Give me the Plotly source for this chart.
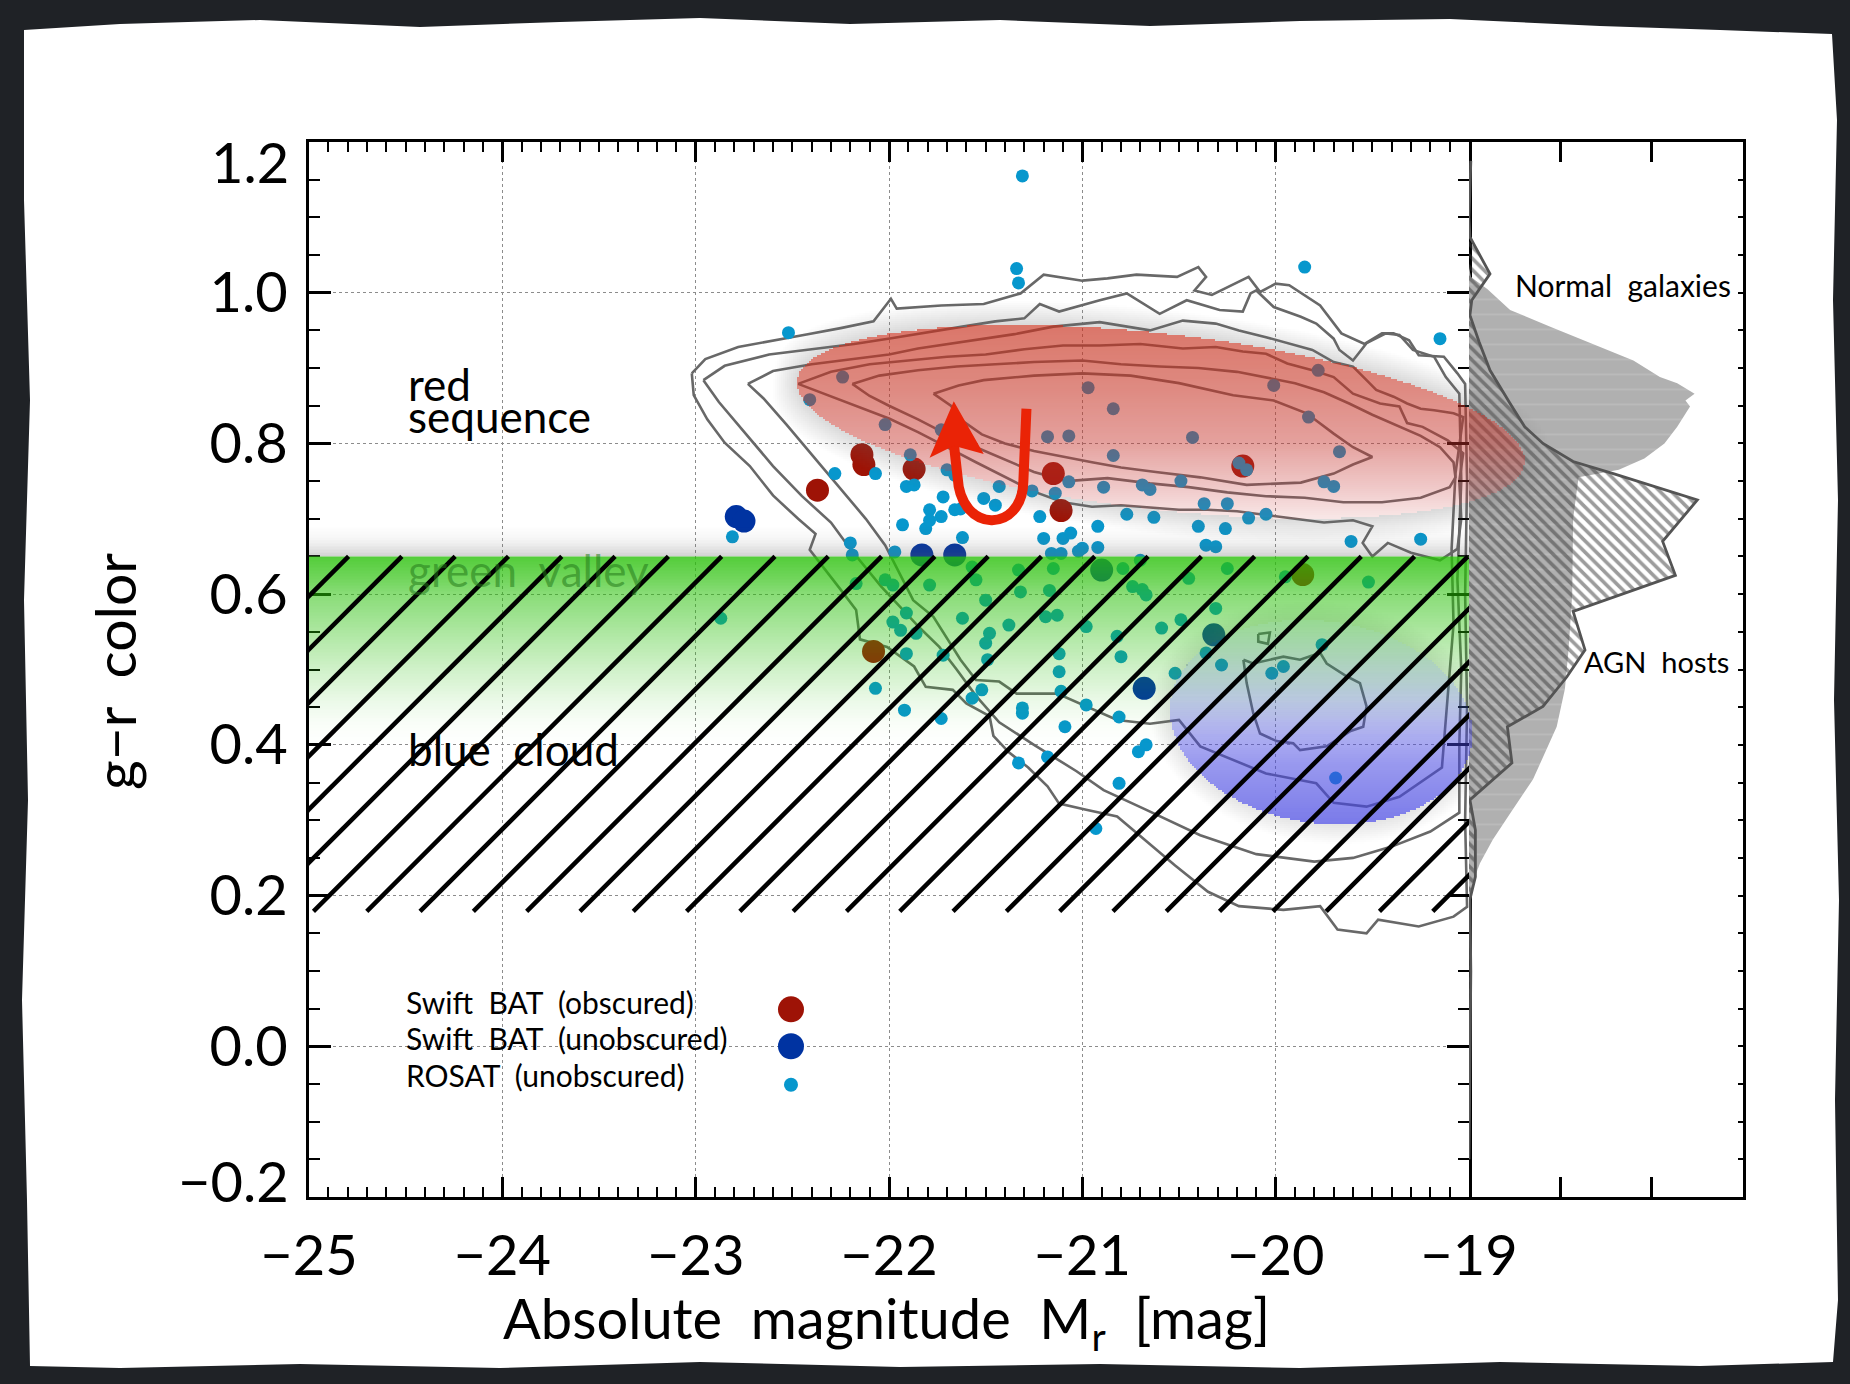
import numpy as np
import plotly.graph_objects as go

# ---------------- figure geometry (pixels) ----------------
W, H = 1850, 1384
X0, X1, X2 = 309, 1469, 1743      # main left, main right (-19), histogram right
YT, YB = 142, 1197                # top (1.2), bottom (-0.2)
XMIN, XMAX = -25.0, -19.0
YMIN, YMAX = -0.2, 1.2
HMAX = 0.3
PXX = (X1 - X0) / (XMAX - XMIN)
PXY = (YB - YT) / (YMAX - YMIN)
X3MAX = XMIN + (X2 - X0) / PXX
FONT = "Lato"
TICK_SIZE = 56

# ---------------- data ----------------
rosat_x = [-21.31, -21.34, -21.33, -19.85, -19.15, -22.52, -22.24, -22.41, -22.02, -21.73,
           -20.97, -20.84, -21.18, -21.07, -20.43, -20.01, -19.78, -19.83, -19.67, -20.84,
           -21.89, -20.19, -20.15, -22.28, -22.07, -21.91, -21.87, -21.70, -21.66, -21.72,
           -21.79, -21.73, -21.66, -21.63, -21.51, -21.43, -21.45, -21.93, -21.81, -21.79,
           -21.62, -22.81, -22.20, -22.19, -21.97, -21.26, -21.22, -21.20, -21.14, -21.10,
           -21.06, -21.07, -21.00, -21.02, -20.92, -20.92, -20.89, -20.77, -20.69, -20.65,
           -20.63, -20.49, -20.40, -20.37, -20.36, -20.31, -20.26, -20.25, -20.14, -20.05,
           -19.75, -19.70, -19.61, -19.25, -21.16, -21.11,
           -22.17, -22.02, -21.98, -21.79, -21.57, -21.55, -21.50, -21.33, -21.32, -21.17,
           -21.15, -20.98, -20.82, -21.98, -21.94, -21.91, -21.86, -22.87, -21.62, -21.38,
           -21.19, -21.13, -21.48, -21.50, -21.91, -21.72, -21.49, -21.12, -21.12, -21.11,
           -22.07, -21.92, -21.73, -21.57, -21.52, -21.31, -21.31, -20.98, -21.09, -21.33,
           -21.18, -20.93, -20.81, -20.81, -20.79, -20.70, -20.45, -20.25, -20.74, -20.69,
           -20.67, -19.95, -19.52, -20.31, -20.49, -20.59, -20.80, -20.52, -20.36, -20.28,
           -20.02, -19.96, -19.76, -20.67, -20.71, -19.69]
rosat_y = [1.155, 1.032, 1.013, 1.034, 0.939, 0.947, 0.888, 0.858, 0.825, 0.818,
           0.874, 0.846, 0.809, 0.810, 0.808, 0.877, 0.897, 0.835, 0.789, 0.784,
           0.785, 0.774, 0.765, 0.760, 0.760, 0.743, 0.745, 0.765, 0.758, 0.729,
           0.712, 0.703, 0.712, 0.713, 0.727, 0.743, 0.718, 0.692, 0.687, 0.698,
           0.675, 0.676, 0.668, 0.652, 0.656, 0.737, 0.703, 0.674, 0.734, 0.674,
           0.681, 0.749, 0.661, 0.657, 0.690, 0.662, 0.742, 0.706, 0.745, 0.739,
           0.702, 0.750, 0.690, 0.720, 0.665, 0.663, 0.687, 0.720, 0.701, 0.706,
           0.749, 0.743, 0.670, 0.673, 0.654, 0.654,
           0.614, 0.619, 0.612, 0.612, 0.636, 0.619, 0.592, 0.632, 0.603, 0.605,
           0.634, 0.557, 0.544, 0.563, 0.552, 0.575, 0.548, 0.568, 0.568, 0.559,
           0.570, 0.572, 0.548, 0.535, 0.521, 0.519, 0.513, 0.521, 0.497, 0.471,
           0.475, 0.446, 0.435, 0.462, 0.473, 0.449, 0.442, 0.453, 0.424, 0.376,
           0.384, 0.289, 0.437, 0.349, 0.634, 0.645, 0.621, 0.634, 0.610, 0.606,
           0.599, 0.623, 0.616, 0.581, 0.566, 0.555, 0.517, 0.495, 0.522, 0.506,
           0.495, 0.504, 0.533, 0.400, 0.391, 0.356]

bat_obsc_x = [-22.14, -22.13, -22.37, -21.87, -21.15, -21.11, -20.17, -22.08, -19.86]
bat_obsc_y = [0.785, 0.772, 0.738, 0.766, 0.760, 0.711, 0.770, 0.524, 0.626]

bat_unobsc_x = [-22.79, -22.75, -21.83, -21.66, -20.90, -20.32, -20.68]
bat_unobsc_y = [0.703, 0.697, 0.652, 0.652, 0.632, 0.546, 0.475]

# density contours of normal galaxies (traced)
contour_1 = [(-23.02, 0.893), (-22.95, 0.912), (-22.78, 0.928), (-22.60, 0.937), (-22.42, 0.945), (-22.25, 0.953),
             (-22.08, 0.962), (-21.99, 0.992), (-21.96, 0.979), (-21.73, 0.983), (-21.51, 0.985), (-21.32, 0.999),
             (-21.20, 1.024), (-21.00, 1.016), (-20.87, 1.019), (-20.72, 1.024), (-20.51, 1.021), (-20.40, 1.034),
             (-20.36, 1.021), (-20.42, 1.003), (-20.33, 0.997), (-20.14, 1.021), (-20.08, 1.001), (-20.00, 1.012),
             (-19.93, 1.010), (-19.77, 0.983), (-19.66, 0.946), (-19.54, 0.932), (-19.45, 0.946), (-19.39, 0.946),
             (-19.31, 0.937), (-19.26, 0.917), (-19.13, 0.915), (-19.06, 0.893), (-19.02, 0.879), (-19.01, 0.75),
             (-19.02, 0.60), (-19.01, 0.45), (-19.02, 0.30), (-19.01, 0.185), (-19.08, 0.172), (-19.26, 0.159),
             (-19.40, 0.165), (-19.47, 0.168), (-19.53, 0.150), (-19.68, 0.155), (-19.77, 0.186), (-19.96, 0.181),
             (-20.19, 0.186), (-20.35, 0.205), (-20.52, 0.240), (-20.68, 0.275), (-20.82, 0.305), (-20.98, 0.314),
             (-21.12, 0.322), (-21.18, 0.345), (-21.28, 0.370), (-21.38, 0.390), (-21.46, 0.412), (-21.48, 0.438),
             (-21.60, 0.455), (-21.67, 0.473), (-21.81, 0.477), (-21.87, 0.504), (-22.01, 0.530), (-22.15, 0.540),
             (-22.17, 0.579), (-22.25, 0.606), (-22.33, 0.632), (-22.41, 0.659), (-22.38, 0.680), (-22.47, 0.700),
             (-22.60, 0.731), (-22.72, 0.770), (-22.85, 0.801), (-22.94, 0.832), (-23.01, 0.864), (-23.02, 0.893)]
contour_2 = [(-22.96, 0.884), (-22.85, 0.903), (-22.62, 0.918), (-22.40, 0.925), (-22.18, 0.932), (-21.98, 0.940),
             (-21.80, 0.948), (-21.62, 0.955), (-21.45, 0.962), (-21.30, 0.966), (-21.22, 0.985), (-21.12, 0.975),
             (-20.91, 0.990), (-20.77, 0.999), (-20.60, 0.972), (-20.46, 0.990), (-20.29, 0.977), (-20.17, 0.975),
             (-20.13, 0.999), (-20.10, 1.003), (-20.01, 0.981), (-19.87, 0.968), (-19.79, 0.959), (-19.70, 0.939),
             (-19.67, 0.924), (-19.60, 0.910), (-19.53, 0.933), (-19.43, 0.946), (-19.36, 0.944), (-19.29, 0.924),
             (-19.18, 0.915), (-19.12, 0.888), (-19.05, 0.866), (-19.04, 0.75), (-19.06, 0.62), (-19.04, 0.50),
             (-19.05, 0.40), (-19.05, 0.31), (-19.20, 0.285), (-19.40, 0.265), (-19.60, 0.250), (-19.80, 0.245),
             (-20.10, 0.255), (-20.39, 0.280), (-20.68, 0.315), (-20.89, 0.340), (-21.03, 0.365), (-21.25, 0.400),
             (-21.43, 0.430), (-21.55, 0.465), (-21.65, 0.500), (-21.74, 0.530), (-21.84, 0.555), (-21.95, 0.585),
             (-22.04, 0.610), (-22.12, 0.635), (-22.20, 0.660), (-22.30, 0.695), (-22.45, 0.730), (-22.60, 0.770),
             (-22.75, 0.815), (-22.88, 0.855), (-22.96, 0.884)]
contour_3 = [(-22.73, 0.879), (-22.60, 0.896), (-22.40, 0.905), (-22.20, 0.912), (-22.00, 0.918), (-21.85, 0.926),
             (-21.70, 0.932), (-21.55, 0.938), (-21.35, 0.945), (-21.15, 0.955), (-20.91, 0.961), (-20.65, 0.950),
             (-20.48, 0.963), (-20.31, 0.959), (-20.19, 0.950), (-20.05, 0.941), (-19.94, 0.933), (-19.81, 0.924),
             (-19.70, 0.908), (-19.60, 0.902), (-19.53, 0.884), (-19.48, 0.871), (-19.39, 0.862), (-19.32, 0.853),
             (-19.25, 0.846), (-19.18, 0.844), (-19.08, 0.840), (-19.03, 0.835), (-19.07, 0.76), (-19.09, 0.66),
             (-19.08, 0.56), (-19.11, 0.46), (-19.14, 0.37), (-19.36, 0.331), (-19.53, 0.318), (-19.70, 0.323),
             (-19.79, 0.349), (-20.05, 0.362), (-20.22, 0.380), (-20.39, 0.398), (-20.50, 0.433), (-20.65, 0.428),
             (-20.82, 0.433), (-20.98, 0.451), (-21.13, 0.468), (-21.34, 0.468), (-21.43, 0.484), (-21.55, 0.486),
             (-21.63, 0.513), (-21.77, 0.570), (-21.875, 0.592), (-21.95, 0.630), (-22.02, 0.665), (-22.12, 0.700),
             (-22.25, 0.740), (-22.40, 0.785), (-22.53, 0.825), (-22.65, 0.860), (-22.73, 0.879)]
contour_4 = [(-22.47, 0.879), (-22.30, 0.895), (-22.10, 0.905), (-21.90, 0.910), (-21.70, 0.915), (-21.50, 0.918),
             (-21.30, 0.925), (-21.10, 0.930), (-20.91, 0.930), (-20.70, 0.932), (-20.48, 0.926), (-20.31, 0.928),
             (-20.17, 0.922), (-20.05, 0.919), (-19.94, 0.906), (-19.81, 0.897), (-19.70, 0.888), (-19.60, 0.866),
             (-19.46, 0.853), (-19.36, 0.849), (-19.32, 0.827), (-19.24, 0.822), (-19.11, 0.804), (-19.03, 0.787),
             (-19.05, 0.75), (-19.04, 0.70), (-19.06, 0.66), (-19.15, 0.645), (-19.30, 0.655), (-19.42, 0.668),
             (-19.50, 0.650), (-19.55, 0.668), (-19.50, 0.690), (-19.60, 0.698), (-19.75, 0.695), (-19.90, 0.700),
             (-20.05, 0.705), (-20.20, 0.710), (-20.35, 0.712), (-20.50, 0.712), (-20.65, 0.715), (-20.80, 0.718),
             (-20.95, 0.716), (-21.10, 0.722), (-21.25, 0.736), (-21.40, 0.755), (-21.55, 0.775), (-21.70, 0.795),
             (-21.85, 0.815), (-22.00, 0.833), (-22.15, 0.848), (-22.30, 0.863), (-22.47, 0.879)]
contour_5 = [(-22.19, 0.879), (-22.05, 0.890), (-21.85, 0.897), (-21.65, 0.902), (-21.45, 0.905), (-21.25, 0.908),
             (-21.00, 0.910), (-20.80, 0.905), (-20.60, 0.902), (-20.40, 0.900), (-20.20, 0.895), (-20.05, 0.888),
             (-19.90, 0.880), (-19.75, 0.868), (-19.62, 0.853), (-19.50, 0.838), (-19.38, 0.825), (-19.25, 0.810),
             (-19.15, 0.795), (-19.08, 0.775), (-19.07, 0.755), (-19.10, 0.742), (-19.25, 0.728), (-19.45, 0.722),
             (-19.65, 0.722), (-19.85, 0.728), (-20.05, 0.730), (-20.25, 0.735), (-20.45, 0.742), (-20.65, 0.747),
             (-20.87, 0.754), (-21.08, 0.750), (-21.25, 0.762), (-21.40, 0.778), (-21.55, 0.795), (-21.70, 0.812),
             (-21.85, 0.832), (-22.00, 0.850), (-22.10, 0.863), (-22.19, 0.879)]
contour_6 = [(-21.77, 0.866), (-21.64, 0.877), (-21.51, 0.884), (-21.25, 0.890), (-21.00, 0.893), (-20.75, 0.890),
             (-20.50, 0.880), (-20.22, 0.864), (-20.01, 0.857), (-19.84, 0.840), (-19.70, 0.813), (-19.60, 0.795),
             (-19.50, 0.782), (-19.60, 0.772), (-19.70, 0.760), (-19.87, 0.748), (-20.15, 0.745), (-20.39, 0.755),
             (-20.62, 0.762), (-20.80, 0.768), (-20.95, 0.775), (-21.10, 0.782), (-21.25, 0.790), (-21.40, 0.800),
             (-21.52, 0.812), (-21.62, 0.830), (-21.68, 0.850), (-21.77, 0.866)]
contour_bc1 = [(-20.167, 0.513), (-20.116, 0.508), (-19.96, 0.517), (-19.874, 0.513), (-19.77, 0.522), (-19.736, 0.508),
               (-19.633, 0.491), (-19.564, 0.482), (-19.53, 0.451), (-19.547, 0.424), (-19.616, 0.418), (-19.736, 0.398),
               (-19.874, 0.393), (-19.909, 0.402), (-19.995, 0.405), (-20.081, 0.415), (-20.116, 0.442), (-20.15, 0.482),
               (-20.167, 0.513)]
contour_bc2 = [(-20.09, 0.547), (-20.03, 0.549), (-20.04, 0.534), (-20.09, 0.537), (-20.09, 0.547)]
contours = [contour_1, contour_2, contour_3, contour_4, contour_5, contour_6, contour_bc1, contour_bc2]

# marginal histograms (g-r color vs. fraction)
normal_y = [1.035, 1.021, 1.005, 0.977, 0.955, 0.928, 0.910, 0.888, 0.880, 0.866, 0.857, 0.849, 0.822, 0.800,
            0.780, 0.765, 0.755, 0.700, 0.600, 0.526, 0.474, 0.424, 0.384, 0.354, 0.309, 0.274, 0.243, 0.217,
            0.195, 0.150]
normal_f = [0.0, 0.002, 0.020, 0.045, 0.089, 0.143, 0.180, 0.209, 0.228, 0.247, 0.237, 0.242, 0.228, 0.214,
            0.192, 0.164, 0.120, 0.114, 0.113, 0.109, 0.105, 0.096, 0.081, 0.070, 0.045, 0.026, 0.012, 0.004,
            0.001, 0.0]
agn_y = [1.175, 1.100, 1.074, 1.025, 0.990, 0.970, 0.935, 0.897, 0.853, 0.822, 0.800, 0.776, 0.760, 0.725,
         0.670, 0.625, 0.577, 0.526, 0.490, 0.451, 0.424, 0.376, 0.327, 0.287, 0.225, 0.195, 0.100, 0.000, -0.150]
agn_f = [0.002, 0.0, 0.001, 0.023, 0.003, 0.001, 0.011, 0.023, 0.045, 0.061, 0.081, 0.114, 0.158, 0.250,
         0.212, 0.226, 0.114, 0.127, 0.107, 0.081, 0.042, 0.047, 0.001, 0.007, 0.007, 0.001, 0.002, 0.001, 0.0]

x_ticks = [-25, -24, -23, -22, -21, -20, -19]
y_ticks = [-0.2, 0.0, 0.2, 0.4, 0.6, 0.8, 1.0, 1.2]
y_ticktext = ["", "0.0", "0.2", "0.4", "0.6", "0.8", "1.0", ""]   # end labels are set inside the frame
y_end_labels = ["\u22120.2", "1.2"]
legend_labels = ["Swift  BAT  (obscured)", "Swift  BAT  (unobscured)", "ROSAT  (unobscured)"]

# region boundaries
GREEN_TOP = 0.65
HATCH_BOTTOM = 0.179

# ---------------- helpers ----------------
def ellipse_layer(cx_d, cy_d, a, b, theta, shadow, step=2.0):
    cx = X0 + (cx_d - XMIN) * PXX
    cy = YT + (YMAX - cy_d) * PXY
    th = np.radians(theta)
    h_e = np.hypot(a * np.sin(th), b * np.cos(th))
    hw = np.hypot(a * np.cos(th), b * np.sin(th)) + shadow + 2
    hh = h_e + shadow + 2
    xe = np.arange(cx - hw, cx + hw + step, step)
    ye = np.arange(cy - hh, cy + hh + step, step)
    xc = 0.5 * (xe[:-1] + xe[1:])
    yc = 0.5 * (ye[:-1] + ye[1:])
    PX, PY = np.meshgrid(xc, yc)
    dx, dy = PX - cx, PY - cy
    u = dx * np.cos(th) + dy * np.sin(th)
    v = -dx * np.sin(th) + dy * np.cos(th)
    r = np.sqrt((u / a) ** 2 + (v / b) ** 2)
    g = np.sqrt((u / a ** 2) ** 2 + (v / b ** 2) ** 2) / np.maximum(r, 1e-9)
    d = (r - 1) / np.maximum(g, 1e-9)
    t = np.clip((PY - (cy - h_e)) / (2 * h_e), 0, 1)
    z = np.where(r <= 1, 0.5 * t, np.where(d <= shadow, 0.5 + 0.5 * d / shadow, np.nan))
    xd = XMIN + (xe - X0) / PXX
    yd = YMAX - (ye - YT) / PXY
    return xd, yd[::-1], z[::-1]


def band_layer(y_lo, y_hi, prof_y, prof_a, step_px=1.5):
    n = int(round((y_hi - y_lo) * PXY / step_px))
    ye = np.linspace(y_lo, y_hi, n + 1)
    yc = 0.5 * (ye[:-1] + ye[1:])
    alpha = np.interp(yc, prof_y, prof_a)
    return [XMIN, XMAX], ye, alpha.reshape(-1, 1)


fig = go.Figure()

# contours
for c in contours:
    fig.add_trace(go.Scatter(x=[p[0] for p in c], y=[p[1] for p in c], mode="lines",
                             line=dict(color="#686868", width=2.6), hoverinfo="skip", showlegend=False))

# AGN points
fig.add_trace(go.Scatter(x=bat_obsc_x, y=bat_obsc_y, mode="markers",
                         marker=dict(size=23, color="#9e1306", line=dict(width=0)), showlegend=False, hoverinfo="skip"))
fig.add_trace(go.Scatter(x=bat_unobsc_x, y=bat_unobsc_y, mode="markers",
                         marker=dict(size=23, color="#0033a1", line=dict(width=0)), showlegend=False, hoverinfo="skip"))
fig.add_trace(go.Scatter(x=rosat_x, y=rosat_y, mode="markers",
                         marker=dict(size=13, color="#0797cd", line=dict(width=0)), showlegend=False, hoverinfo="skip"))

# legend symbols
LEG_X = -22.507
LEG_Y = [0.049, 0.0, -0.051]
for yy, col, sz in zip(LEG_Y, ["#9e1306", "#0033a1", "#0797cd"], [26, 26, 14]):
    fig.add_trace(go.Scatter(x=[LEG_X], y=[yy], mode="markers", marker=dict(size=sz, color=col, line=dict(width=0)),
                             showlegend=False, hoverinfo="skip"))

# histograms
fig.add_trace(go.Scatter(x=normal_f, y=normal_y, xaxis="x2", yaxis="y", mode="lines", fill="tozerox",
                         line=dict(width=0, color="rgba(0,0,0,0)"), fillcolor="#b0b0b0",
                         fillpattern=dict(shape="-", bgcolor="#b0b0b0", fgcolor="#c4c4c4", size=15, solidity=0.12),
                         showlegend=False, hoverinfo="skip"))
fig.add_trace(go.Scatter(x=agn_f, y=agn_y, xaxis="x2", yaxis="y", mode="lines", fill="tozerox",
                         line=dict(width=2.8, color="#545454"), fillcolor="rgba(0,0,0,0)",
                         fillpattern=dict(shape="\\", bgcolor="rgba(0,0,0,0)", fgcolor="#3a3a3a", size=8,
                                          solidity=0.45),
                         showlegend=False, hoverinfo="skip"))

# dummy traces to instantiate helper axes
fig.add_trace(go.Scatter(x=[None], y=[None], xaxis="x2", yaxis="y2", showlegend=False, hoverinfo="skip"))
fig.add_trace(go.Scatter(x=[None], y=[None], xaxis="x", yaxis="y3", showlegend=False, hoverinfo="skip"))

# ---- translucent overlays (separate subplot spanning both panels, drawn on top) ----
def alpha_scale(rgb):
    return [[0, "rgba(%d,%d,%d,0)" % rgb], [1, "rgba(%d,%d,%d,1)" % rgb]]

# blue cloud ellipse
bx, by, bz = ellipse_layer(-19.765, 0.430, 152, 101, 8.0, 20)
fig.add_trace(go.Heatmap(x=bx, y=by, z=bz, xaxis="x3", yaxis="y", zmin=0, zmax=1, showscale=False,
                         hoverinfo="skip", zsmooth=False,
                         colorscale=[[0, "rgba(70,70,225,0.10)"], [0.2, "rgba(70,70,225,0.30)"],
                                     [0.35, "rgba(70,70,225,0.55)"], [0.5, "rgba(70,70,225,0.72)"],
                                     [0.5001, "rgba(110,110,110,0.18)"], [1, "rgba(110,110,110,0)"]]))

# green valley band + its shadow
gx, gy, gz = band_layer(0.40, GREEN_TOP, [0.40, 0.43, 0.46, 0.50, 0.55, 0.60, 0.62, 0.65],
                        [0.0, 0.03, 0.10, 0.22, 0.38, 0.55, 0.66, 0.80])
fig.add_trace(go.Heatmap(x=gx, y=gy, z=gz, xaxis="x3", yaxis="y", zmin=0, zmax=1, showscale=False,
                         hoverinfo="skip", zsmooth=False, colorscale=alpha_scale((40, 192, 8))))
sx, sy, sz_ = band_layer(GREEN_TOP, 0.69, [0.65, 0.655, 0.665, 0.675, 0.69], [0.30, 0.22, 0.12, 0.05, 0.0])
fig.add_trace(go.Heatmap(x=sx, y=sy, z=sz_, xaxis="x3", yaxis="y", zmin=0, zmax=1, showscale=False,
                         hoverinfo="skip", zsmooth=False, colorscale=alpha_scale((95, 95, 95))))

# red sequence ellipse
rx, ry, rz = ellipse_layer(-20.593, 0.829, 366, 88, 6.5, 24)
fig.add_trace(go.Heatmap(x=rx, y=ry, z=rz, xaxis="x3", yaxis="y", zmin=0, zmax=1, showscale=False,
                         hoverinfo="skip", zsmooth=False,
                         colorscale=[[0, "rgba(200,48,28,0.66)"], [0.15, "rgba(198,50,34,0.58)"],
                                     [0.3, "rgba(198,52,44,0.47)"], [0.42, "rgba(200,60,58,0.28)"],
                                     [0.5, "rgba(205,70,70,0.13)"],
                                     [0.5001, "rgba(105,105,105,0.25)"], [1, "rgba(105,105,105,0)"]]))

# ---------------- shapes ----------------
shapes = []
# torn white paper
paper_pts = [(24, 30), (120, 24), (260, 20), (420, 27), (560, 22), (700, 18), (850, 24), (1000, 20), (1150, 26),
             (1300, 21), (1450, 19), (1600, 26), (1720, 30), (1832, 34), (1837, 120), (1833, 300), (1838, 500),
             (1834, 700), (1839, 900), (1835, 1100), (1838, 1300), (1833, 1362), (1700, 1366), (1500, 1362),
             (1300, 1368), (1100, 1364), (900, 1367), (700, 1362), (500, 1368), (300, 1364), (120, 1368),
             (30, 1366), (27, 1200), (22, 1000), (28, 800), (24, 600), (30, 400), (24, 200)]
path = "M " + " L ".join("%.5f,%.5f" % (px / W, 1 - py / H) for px, py in paper_pts) + " Z"
shapes.append(dict(type="path", path=path, xref="paper", yref="paper", fillcolor="white",
                   line=dict(width=0), layer="below"))

# hatching of the green valley / blue cloud region (45 degrees on screen)
HATCH_DX = 53.3 / PXX
HATCH_RUN = (GREEN_TOP - HATCH_BOTTOM) * PXY / PXX
HATCH_START = -24.977
for k in range(-8, 23):
    xb = HATCH_START + k * HATCH_DX
    shapes.append(dict(type="line", xref="x", yref="y", x0=xb, y0=HATCH_BOTTOM, x1=xb + HATCH_RUN, y1=GREEN_TOP,
                       line=dict(color="black", width=4.5), layer="above"))

# red U-turn arrow
shapes.append(dict(type="path", xref="x", yref="y", layer="above",
                   path="M -21.289,0.846 L -21.305,0.75 C -21.31,0.68 -21.63,0.68 -21.645,0.755 L -21.665,0.80",
                   line=dict(color="#ea2306", width=10)))
shapes.append(dict(type="path", xref="x", yref="y", layer="above",
                   path="M -21.665,0.856 L -21.79,0.781 L -21.665,0.797 L -21.51,0.786 Z",
                   fillcolor="#ea2306", line=dict(width=0)))

# ---------------- annotations ----------------
def txt(x, y, s, size, xref="x", yref="y", color="black", xanchor="left", angle=0):
    return dict(x=x, y=y, xref=xref, yref=yref, text=s, showarrow=False, xanchor=xanchor, yanchor="middle",
                textangle=angle, font=dict(family=FONT, size=size, color=color))

annotations = [
    txt(-24.50, 0.879, "red", 44),
    txt(-24.50, 0.836, "sequence", 44),
    txt(-24.50, 0.632, "green  valley", 44, color="rgba(35,120,25,0.55)"),
    txt(-24.50, 0.395, "blue  cloud", 44),
    txt(-24.51, 0.059, legend_labels[0], 30),
    txt(-24.51, 0.011, legend_labels[1], 30),
    txt(-24.51, -0.038, legend_labels[2], 30),
    txt(0.0485, 1.010, "Normal  galaxies", 30, xref="x2"),
    txt(0.1234, 0.510, "AGN  hosts", 29, xref="x2"),
    txt(886 / W, 1 - 1321 / H, "Absolute  magnitude \u00a0M<sub>r</sub>  [mag]", 56, xref="paper", yref="paper",
        xanchor="center"),
    txt(114 / W, 1 - 672 / H, "g\u2212r  color", 57, xref="paper", yref="paper", xanchor="center", angle=-90),
    # y-axis end labels, pulled inside the frame as in the original
    txt(291 / W, YMIN + 17 / PXY, y_end_labels[0], TICK_SIZE, xref="paper", xanchor="right"),
    txt(291 / W, YMAX - 19 / PXY, y_end_labels[1], TICK_SIZE, xref="paper", xanchor="right"),
]

axis_common = dict(showline=True, linecolor="black", linewidth=3, ticks="inside", tickcolor="black",
                   tickwidth=2.5, zeroline=False, automargin=False)
ydom = [1 - YB / H, 1 - YT / H]

fig.update_layout(
    width=W, height=H, autosize=False,
    margin=dict(l=0, r=0, t=0, b=0, pad=0, autoexpand=False),
    paper_bgcolor="#1f2226", plot_bgcolor="rgba(0,0,0,0)",
    showlegend=False,
    font=dict(family=FONT, color="black"),
    xaxis=dict(domain=[X0 / W, X1 / W], range=[XMIN, XMAX], anchor="y", tickmode="array", tickvals=x_ticks,
               ticklen=20, mirror="ticks", showgrid=True, gridcolor="#8c8c8c", gridwidth=1.3, griddash="dot",
               minor=dict(dtick=0.1, tick0=-25, ticklen=10, tickwidth=2, ticks="inside", tickcolor="black",
                          showgrid=False),
               tickfont=dict(family=FONT, size=TICK_SIZE, color="black"), ticklabelstandoff=8, **axis_common),
    yaxis=dict(domain=ydom, range=[YMIN, YMAX], anchor="x", tickmode="array", tickvals=y_ticks,
               ticktext=y_ticktext, ticklen=22, mirror="ticks", showgrid=False,
               minor=dict(dtick=0.05, tick0=0, ticklen=11, tickwidth=2, ticks="inside", tickcolor="black",
                          showgrid=False),
               tickfont=dict(family=FONT, size=TICK_SIZE, color="black"), ticklabelstandoff=7, **axis_common),
    yaxis3=dict(overlaying="y", anchor="x", range=[YMIN, YMAX], tickmode="array", tickvals=y_ticks,
                showgrid=True, gridcolor="#8c8c8c", gridwidth=1.3, griddash="dot", showticklabels=False,
                ticks="", showline=False, zeroline=False, automargin=False),
    xaxis2=dict(domain=[X1 / W, X2 / W], range=[0, HMAX], anchor="y", tickvals=[0.1, 0.2], ticklen=20,
                mirror="ticks", showticklabels=False, showgrid=False, **axis_common),
    yaxis2=dict(overlaying="y", anchor="x2", side="right", range=[YMIN, YMAX], dtick=0.05, tick0=0,
                ticklen=5, showticklabels=False, showgrid=False, **{k: v for k, v in axis_common.items()
                                                                   if k != "tickwidth"}, tickwidth=2),
    xaxis3=dict(domain=[X0 / W, X2 / W], range=[XMIN, X3MAX], anchor="y", visible=False, showgrid=False,
                zeroline=False, automargin=False),
    shapes=shapes,
    annotations=annotations,
)

fig.write_html("out.html")
